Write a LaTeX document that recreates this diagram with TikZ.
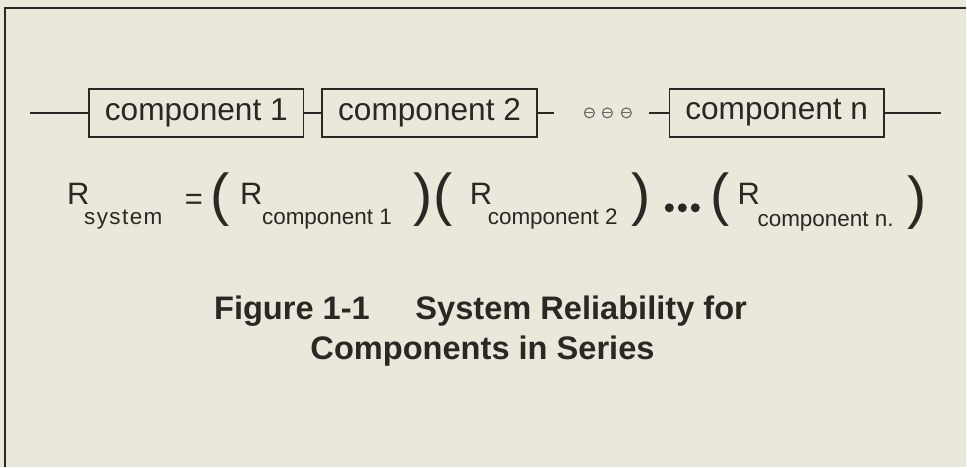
\documentclass[tikz,border=0pt]{standalone}
\usepackage{fontspec}
\setmainfont{Liberation Sans}
\definecolor{paper}{HTML}{E9E8DB}
\definecolor{ink}{HTML}{2B2723}

\begin{document}
\begin{tikzpicture}[x=0.025cm, y=-0.025cm,
    comp/.style={draw=ink, line width=1pt, rectangle, minimum width=5.375cm,
                 minimum height=1.2cm, inner sep=0pt, text=ink,
                 font=\fontsize{22.5}{27}\selectfont},
    bigR/.style={anchor=base west, inner sep=0pt, text=ink, font=\fontsize{22}{26}\selectfont},
    sub/.style={anchor=base west, inner sep=0pt, text=ink, font=\fontsize{16}{19}\selectfont},
    paren/.style={inner sep=0pt, text=ink, font=\fontsize{41}{49}\selectfont},
    caption/.style={anchor=base, inner sep=0pt, text=ink, font=\fontsize{23.2}{27}\selectfont\bfseries},
    wire/.style={draw=ink, line width=1pt}]
    \fill[paper] (0,0) rectangle (967,467);
    \draw[ink, line width=1.4pt] (967,8) -- (5,8) -- (5,467);
    % components in series
    \node[comp] (c1) at (196.5,113) {component 1};
    \node[comp] (c2) at (430,113)   {component 2};
    \node[comp] (cn) at (777.5,113) {component n};
    \coordinate (lin)  at (30,113);
    \coordinate (s2)   at (555,113);
    \coordinate (sn)   at (650,113);
    \coordinate (rout) at (942,113);
    \foreach \a/\b in {lin/c1, c1/c2, c2/s2, sn/cn, cn/rout}
        \draw[wire] (\a) -- (\b);
    \foreach \x in {590,608,627} {
        \draw[ink!70, line width=0.8pt] (\x,113) circle (5);
        \draw[ink!70, line width=0.8pt] (\x-4,113) -- (\x+4,113);
    }
    % reliability product
    \node[bigR] (rs) at (67,205) {R};
    \node[sub] (rssub) at (84,225) {s\kern1pt y\kern1pt s\kern1pt t\kern1pt e\kern1pt m};
    \node[inner sep=0pt, text=ink, font=\fontsize{22}{26}\selectfont] (eq) at (194,202) {=};
    \node[paren] (p1) at (220,200) {(};
    \node[bigR] (r1) at (240,205) {R};
    \node[sub] (r1sub) at (262,225) {component 1};
    \node[paren] (p2) at (424,200) {)};
    \node[paren] (p3) at (444,200) {(};
    \node[bigR] (r2) at (470,205) {R};
    \node[sub] (r2sub) at (488,225) {component 2};
    \node[paren] (p4) at (642,200) {)};
    \foreach \x in {670,683,696}
        \fill[ink] (\x,208) circle (4.5);
    \node[paren] (p5) at (721,200) {(};
    \node[bigR] (rn) at (738,205) {R};
    \node[sub] (rnsub) at (758,227) {component n.};
    \node[paren] (p6) at (918,203) {)};
    % caption
    \node[caption] (cap1) at (481,320) {Figure 1-1\hspace{1.4em}System Reliability for};
    \node[caption] (cap2) at (483,360) {Components in Series};
\end{tikzpicture}
\end{document}
